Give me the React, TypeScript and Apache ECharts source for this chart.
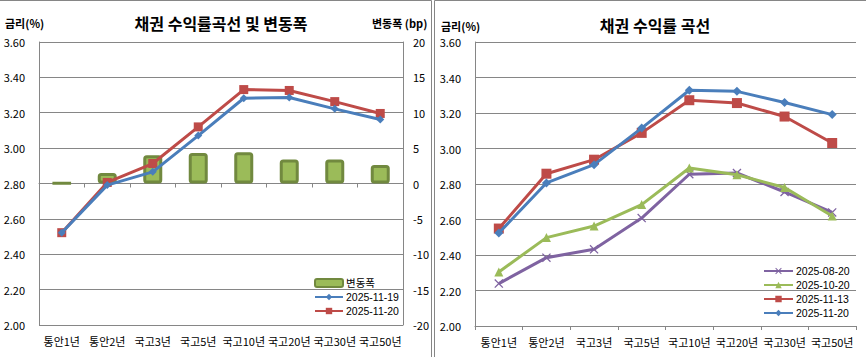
import React, { useEffect, useRef } from "react";
import * as echarts from "echarts";

const categories = ["통안1년", "통안2년", "국고3년", "국고5년", "국고10년", "국고20년", "국고30년", "국고50년"];

// Left chart
const leftChange = [0.05, 1.5, 4.0, 4.3, 4.4, 3.4, 3.4, 2.6];
const left1119 = [2.522, 2.791, 2.866, 3.071, 3.282, 3.286, 3.222, 3.162];
const left1120 = [2.522, 2.806, 2.913, 3.12, 3.331, 3.326, 3.263, 3.196];

// Right chart
const r0820 = [2.239, 2.385, 2.432, 2.608, 2.855, 2.862, 2.755, 2.64];
const r1020 = [2.304, 2.498, 2.563, 2.684, 2.89, 2.852, 2.78, 2.62];
const r1113 = [2.549, 2.858, 2.937, 3.088, 3.272, 3.256, 3.18, 3.031];
const r1120 = [2.524, 2.806, 2.909, 3.115, 3.328, 3.322, 3.259, 3.191];

const FONT = "'Noto Sans CJK KR', 'Noto Sans', sans-serif";
const LEGEND_FONT = "'Liberation Sans', 'Noto Sans CJK KR', sans-serif";
const GRAY = "#868686";
const BLUE = "#4A7EBB";
const RED = "#BE4B48";
const GREEN = "#9BBB59";
const PURPLE = "#7F63A1";
const XSYM = "path://M0,1L1,0L5,4L9,0L10,1L6,5L10,9L9,10L5,6L1,10L0,9L4,5Z";

const xAxisCommon = {
  type: "category",
  data: categories,
  boundaryGap: true,
  axisLine: { lineStyle: { color: GRAY, width: 1 } },
  axisTick: { show: true, length: 4, inside: false, lineStyle: { color: GRAY } },
  axisLabel: { color: "#000", fontSize: 11, fontFamily: FONT, margin: 10, interval: 0 },
  splitLine: { show: false },
};

const yLeftCommon = (margin: number) => ({
  type: "value",
  min: 2,
  max: 3.6,
  interval: 0.2,
  axisLine: { show: true, lineStyle: { color: GRAY } },
  axisTick: { show: false },
  axisLabel: {
    color: "#000",
    fontSize: 11,
    fontFamily: FONT,
    margin,
    formatter: (v: number) => v.toFixed(2),
  },
  splitLine: { show: true, lineStyle: { color: GRAY, width: 1 } },
});

const legendText = { fontSize: 10.5, fontFamily: LEGEND_FONT, color: "#000", lineHeight: 14, padding: [0, 0, 0, -2] };

function buildLeft() {
  return {
    animation: false,
    textStyle: { fontFamily: FONT },
    title: {
      text: "채권 수익률곡선 및 변동폭",
      left: 216,
      textAlign: "center",
      top: 10,
      textStyle: { fontSize: 16, fontWeight: "bold", color: "#000", fontFamily: FONT },
    },
    graphic: [
      { type: "rect", shape: { x: -2, y: 0.5, width: 433.5, height: 400 }, style: { fill: "none", stroke: GRAY, lineWidth: 1 }, silent: true },
      { type: "text", left: 5, top: 17, style: { text: "금리(%)", fontSize: 11, fontWeight: "bold", fontFamily: FONT, fill: "#000" } },
      { type: "text", left: 372, top: 17, style: { text: "변동폭 (bp)", fontSize: 11, fontWeight: "bold", fontFamily: FONT, fill: "#000" } },
    ],
    grid: { left: 39, top: 42, width: 364, height: 283, containLabel: false },
    xAxis: xAxisCommon,
    yAxis: [
      yLeftCommon(14),
      {
        type: "value",
        min: -20,
        max: 20,
        interval: 5,
        position: "right",
        axisLine: { show: true, lineStyle: { color: GRAY } },
        axisTick: { show: false },
        axisLabel: { color: "#000", fontSize: 11, fontFamily: FONT, margin: 10 },
        splitLine: { show: false },
      },
    ],
    legend: {
      orient: "vertical",
      left: 314,
      top: 276,
      padding: 0,
      itemWidth: 28,
      itemHeight: 8,
      itemGap: 0,
      textStyle: legendText,
      data: ["변동폭", "2025-11-19", "2025-11-20"],
    },
    series: [
      {
        name: "변동폭",
        type: "bar",
        yAxisIndex: 1,
        data: leftChange,
        barWidth: 19,
        itemStyle: { color: GREEN, borderColor: "#71893F", borderWidth: 3, borderRadius: 2 },
        z: 1,
      },
      {
        name: "2025-11-19",
        type: "line",
        data: left1119,
        symbol: "diamond",
        symbolSize: 8,
        lineStyle: { color: BLUE, width: 3 },
        itemStyle: { color: BLUE },
        z: 3,
      },
      {
        name: "2025-11-20",
        type: "line",
        data: left1120,
        symbol: "rect",
        symbolSize: 9,
        lineStyle: { color: RED, width: 3 },
        itemStyle: { color: RED },
        z: 2,
      },
    ],
  };
}

function buildRight() {
  const line = (name: string, data: number[], color: string, symbol: string, size: number, z: number) => ({
    name,
    type: "line",
    data,
    symbol,
    symbolSize: size,
    lineStyle: { color, width: 3 },
    itemStyle: { color },
    z,
  });
  return {
    animation: false,
    textStyle: { fontFamily: FONT },
    title: {
      text: "채권 수익률 곡선",
      left: 217,
      textAlign: "center",
      top: 12,
      textStyle: { fontSize: 16, fontWeight: "bold", color: "#000", fontFamily: FONT },
    },
    graphic: [
      { type: "rect", shape: { x: 1.5, y: 0.5, width: 500, height: 400 }, style: { fill: "none", stroke: GRAY, lineWidth: 1 }, silent: true },
      { type: "text", left: 8, top: 20, style: { text: "금리(%)", fontSize: 11, fontWeight: "bold", fontFamily: FONT, fill: "#000" } },
    ],
    grid: { left: 42, top: 42, width: 381, height: 284, containLabel: false },
    xAxis: xAxisCommon,
    yAxis: yLeftCommon(14),
    legend: {
      orient: "vertical",
      left: 330,
      top: 264,
      padding: 0,
      itemWidth: 29,
      itemHeight: 8,
      itemGap: 0,
      textStyle: legendText,
      data: ["2025-08-20", "2025-10-20", "2025-11-13", "2025-11-20"],
    },
    series: [
      line("2025-08-20", r0820, PURPLE, XSYM, 9, 2),
      line("2025-10-20", r1020, GREEN, "triangle", 9, 3),
      line("2025-11-13", r1113, RED, "rect", 10, 4),
      line("2025-11-20", r1120, BLUE, "diamond", 9, 5),
    ],
  };
}

function Chart({ build, left }: { build: () => any; left: number }) {
  const ref = useRef<HTMLDivElement>(null);
  useEffect(() => {
    if (!ref.current) return;
    const chart = echarts.init(ref.current, undefined, { renderer: "svg" });
    chart.setOption(build());
    return () => chart.dispose();
  }, []);
  return (
    <div
      ref={ref}
      style={{ position: "absolute", left, top: 0, width: 433, height: 357, background: "#fff" }}
    />
  );
}

export default function App() {
  return (
    <div style={{ position: "fixed", left: 0, top: 0, width: 866, height: 357, background: "#fff", overflow: "hidden" }}>
      <Chart build={buildLeft} left={0} />
      <Chart build={buildRight} left={433} />
    </div>
  );
}
